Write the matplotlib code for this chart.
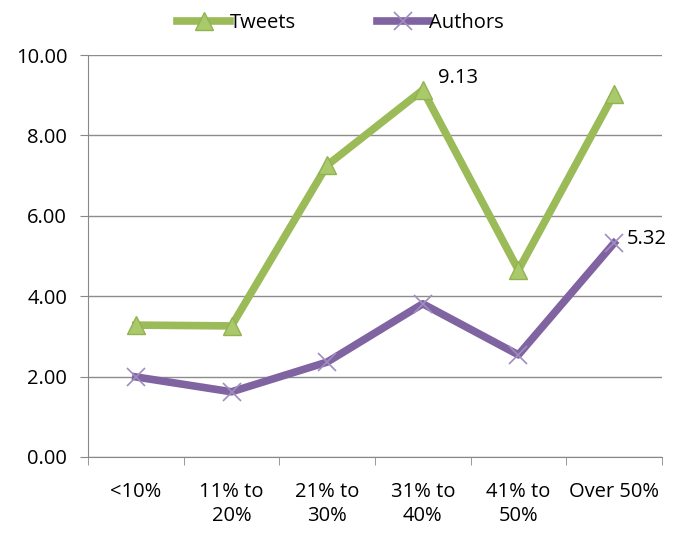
import numpy as np
import matplotlib.pyplot as plt

categories = ['<10%', '11% to\n20%', '21% to\n30%', '31% to\n40%', '41% to\n50%', 'Over 50%']
tweets = [3.28, 3.26, 7.26, 9.13, 4.65, 9.03]
authors = [1.99, 1.62, 2.36, 3.81, 2.54, 5.32]

plt.rcParams['font.family'] = ['Open Sans', 'DejaVu Sans']

green = '#9BBB59'
purple = '#8064A2'
fs = 14.5

fig = plt.figure(figsize=(6.88, 5.35), dpi=100)
ax = fig.add_axes([0.128, 0.146, 0.834, 0.751])

x = np.arange(len(categories))
ax.plot(x, tweets, color=green, linewidth=5.5, marker='^', markersize=13,
        markerfacecolor='#A9C96A', markeredgecolor='#93B352', label='Tweets', zorder=3)
ax.plot(x, authors, color=purple, linewidth=5.5, marker='x', markersize=13,
        markeredgewidth=1.2, markeredgecolor='#A08CC0', label='Authors', zorder=3)

ax.annotate(f'{tweets[3]:.2f}', (x[3], tweets[3]), xytext=(11, 9), textcoords='offset points',
            fontsize=fs, ha='left', va='center')
ax.annotate(f'{authors[5]:.2f}', (x[5], authors[5]), xytext=(9, 3), textcoords='offset points',
            fontsize=fs, ha='left', va='center')

ax.set_xlim(-0.5, len(categories) - 0.5)
ax.set_ylim(0, 10)
ax.set_yticks(np.arange(0, 10.1, 2))
ax.set_yticklabels([f'{v:.2f}' for v in np.arange(0, 10.1, 2)], fontsize=fs)
ax.set_xticks(x)
ax.set_xticklabels(categories, fontsize=fs, linespacing=1.25)
ax.tick_params(axis='x', length=0, pad=18)
ax.set_xticks(np.arange(-0.5, len(categories)), minor=True)
ax.tick_params(axis='x', which='minor', length=6, color='#888888')
ax.tick_params(axis='y', length=6, color='#888888', pad=9)

ax.grid(axis='y', color='#8c8c8c', linewidth=1)
ax.set_axisbelow(True)
for side in ['top', 'right']:
    ax.spines[side].set_visible(False)
for side in ['left', 'bottom']:
    ax.spines[side].set_color('#888888')

fig.legend(loc='upper center', bbox_to_anchor=(0.495, 1.01), ncol=2, frameon=False,
           fontsize=fs, handlelength=2.6, handletextpad=0.0, columnspacing=4.0)

fig.savefig('out.png', dpi=100)
